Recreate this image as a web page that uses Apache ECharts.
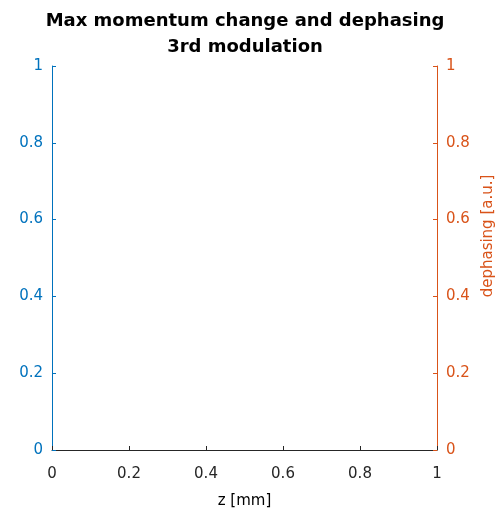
<!DOCTYPE html>
<html>
<head>
<meta charset="utf-8">
<script src="https://cdn.jsdelivr.net/npm/echarts@6/dist/echarts.min.js"></script>
<style>html,body{margin:0;padding:0;background:#fff;}#c{width:500px;height:515px;}</style>
</head>
<body>
<div id="c"></div>
<script>
const titleLines = ["Max momentum change and dephasing", "3rd modulation"];
const xName = "z [mm]";
const yRightName = "dephasing [a.u.]";
const xRange = [0, 1];
const yLeftRange = [0, 1];
const yRightRange = [0, 1];
const tickStep = 0.2;
const leftSeries = [];   // no data plotted
const rightSeries = [];  // no data plotted

const BLUE = '#0072BD', ORANGE = '#D95319', DARK = '#262626';
const font = 'DejaVu Sans, Liberation Sans, Arial, sans-serif';

const chart = echarts.init(document.getElementById('c'), null, {renderer: 'canvas'});
chart.setOption({
  animation: false,
  backgroundColor: '#fff',
  title: {
    text: titleLines.join('\n'),
    left: 240, top: 3, textAlign: 'center',
    textStyle: {fontFamily: font, fontWeight: 'bold', fontSize: 18, color: '#000', lineHeight: 26}
  },
  grid: {left: 52, right: 63, top: 66, bottom: 65, containLabel: false, outerBoundsMode: 'none'},
  xAxis: {
    type: 'value', min: xRange[0], max: xRange[1], interval: tickStep,
    name: xName, nameLocation: 'middle', nameGap: 44,
    nameTextStyle: {fontFamily: font, fontSize: 15, color: '#000'},
    axisLine: {show: true, onZero: false, lineStyle: {color: DARK, width: 1}},
    axisTick: {show: true, inside: true, length: 4, lineStyle: {color: DARK}},
    axisLabel: {fontFamily: font, fontSize: 15, color: DARK, margin: 17},
    splitLine: {show: false}
  },
  yAxis: [{
    type: 'value', position: 'left', min: yLeftRange[0], max: yLeftRange[1], interval: tickStep,
    axisLine: {show: true, onZero: false, lineStyle: {color: BLUE, width: 1}},
    axisTick: {show: true, inside: true, length: 4, lineStyle: {color: BLUE}},
    axisLabel: {fontFamily: font, fontSize: 15, color: BLUE, margin: 9, padding: [6, 0, 0, 0]},
    splitLine: {show: false}
  }, {
    type: 'value', position: 'right', min: yRightRange[0], max: yRightRange[1], interval: tickStep,
    name: yRightName, nameLocation: 'middle', nameGap: 42, nameRotate: 90,
    nameTextStyle: {fontFamily: font, fontSize: 15, color: ORANGE, padding: [0, 0, 0, 44]},
    axisLine: {show: true, onZero: false, lineStyle: {color: ORANGE, width: 1}},
    axisTick: {show: true, inside: true, length: 4, lineStyle: {color: ORANGE}},
    axisLabel: {fontFamily: font, fontSize: 15, color: ORANGE, margin: 9, padding: [6, 0, 0, 0]},
    splitLine: {show: false}
  }],
  series: [
    {type: 'line', yAxisIndex: 0, data: leftSeries, lineStyle: {color: BLUE}, showSymbol: false},
    {type: 'line', yAxisIndex: 1, data: rightSeries, lineStyle: {color: ORANGE}, showSymbol: false}
  ]
});
</script>
</body>
</html>
